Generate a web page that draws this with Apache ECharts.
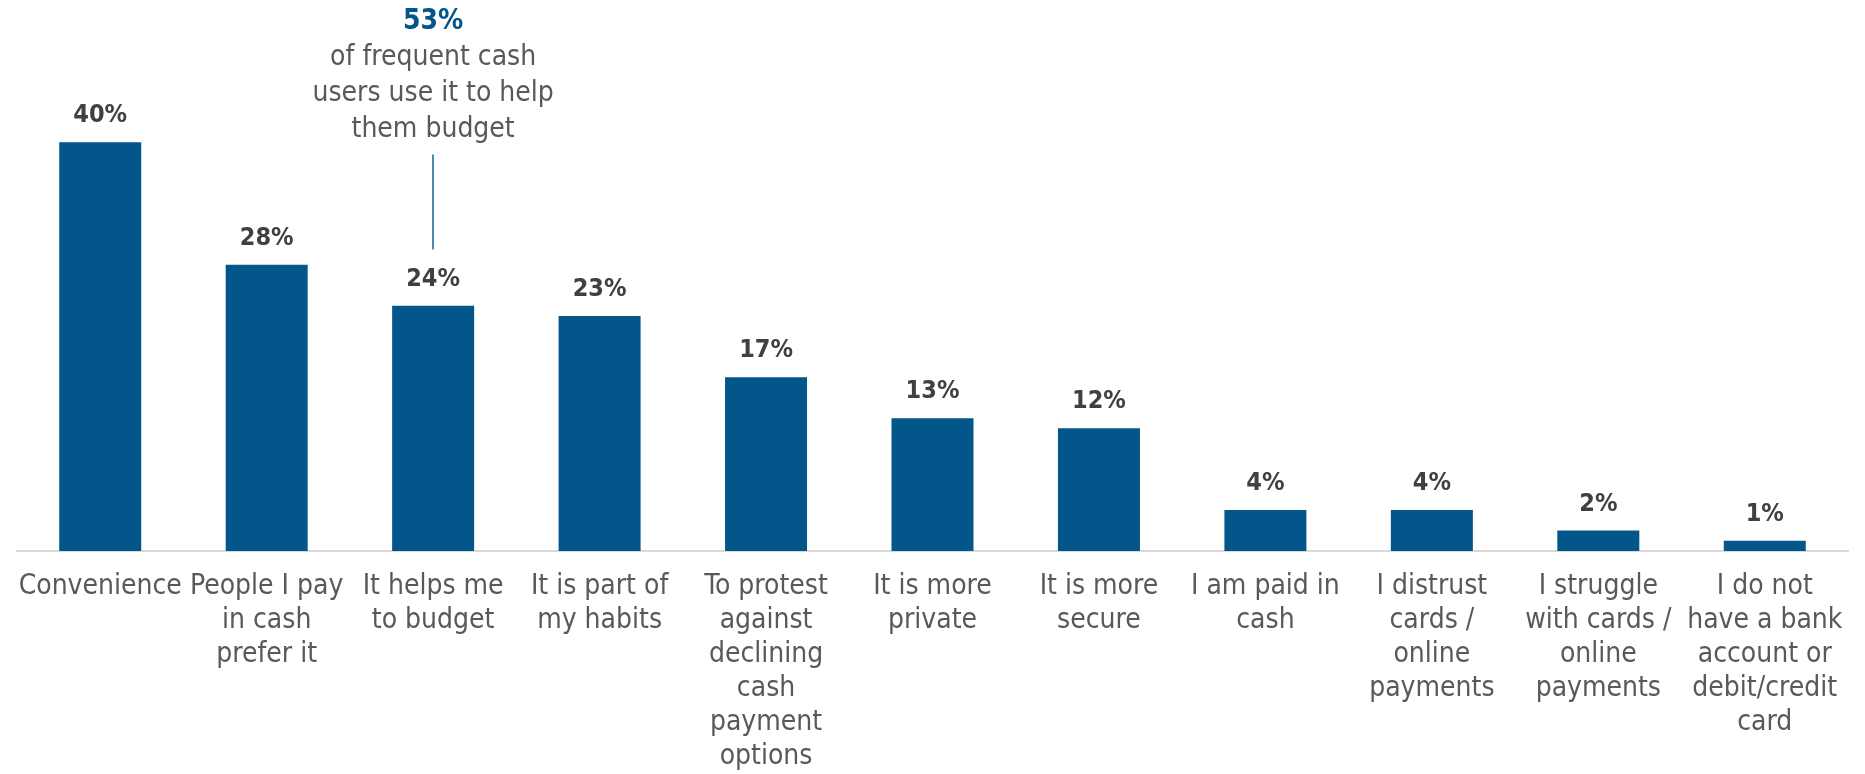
<!DOCTYPE html>
<html>
<head>
<meta charset="utf-8">
<script src="https://cdn.jsdelivr.net/npm/echarts@6/dist/echarts.min.js"></script>
<style>
html,body{margin:0;padding:0;background:#fff;}
#c{width:1865px;height:774px;}
</style>
</head>
<body>
<div id="c"></div>
<script>
const categories = [
  "Convenience",
  "People I pay\nin cash\nprefer it",
  "It helps me\nto budget",
  "It is part of\nmy habits",
  "To protest\nagainst\ndeclining\ncash\npayment\noptions",
  "It is more\nprivate",
  "It is more\nsecure",
  "I am paid in\ncash",
  "I distrust\ncards /\nonline\npayments",
  "I struggle\nwith cards /\nonline\npayments",
  "I do not\nhave a bank\naccount or\ndebit/credit\ncard"
];
const values = [40, 28, 24, 23, 17, 13, 12, 4, 4, 2, 1];
const calloutValue = "53%";
const calloutLines = ["of frequent cash", "users use it to help", "them budget"];
const calloutCategoryIndex = 2;
const leaderFrom = 29.5;
const leaderTo = 38.8;

const FONT = '"DejaVu Sans Condensed", "DejaVu Sans", sans-serif';
const BLUE = '#03568a';

const chart = echarts.init(document.getElementById('c'), null, {renderer: 'canvas'});
const option = {
  animation: false,
  backgroundColor: '#ffffff',
  grid: {left: 17, right: 17, top: 40, bottom: 221, containLabel: false},
  xAxis: {
    type: 'category',
    data: categories,
    axisLine: {show: true, lineStyle: {color: '#d9d9d9', width: 2}},
    axisTick: {show: false},
    axisLabel: {
      interval: 0,
      color: '#595959',
      fontFamily: FONT,
      fontSize: 28,
      lineHeight: 34,
      margin: 19,
      align: 'center'
    }
  },
  yAxis: {
    type: 'value', min: 0, max: 50, show: false,
    splitLine: {show: false}
  },
  series: [{
    type: 'bar',
    data: values,
    barWidth: 82,
    itemStyle: {color: BLUE},
    label: {
      show: true,
      position: 'top',
      distance: 14,
      formatter: '{c}%',
      color: '#404040',
      fontWeight: 'bold',
      fontFamily: FONT,
      fontSize: 25
    },
    markLine: {
      silent: true,
      symbol: ['none', 'none'],
      label: {show: false},
      lineStyle: {color: '#1a5f8f', width: 1.5, type: 'solid'},
      data: [[
        {coord: [categories[calloutCategoryIndex], leaderFrom]},
        {coord: [categories[calloutCategoryIndex], leaderTo]}
      ]]
    }
  }]
};
chart.setOption(option);

const px = chart.convertToPixel({xAxisIndex: 0, yAxisIndex: 0}, [categories[calloutCategoryIndex], 0])[0];
chart.setOption({
  graphic: [{
    type: 'text',
    x: px,
    y: 4,
    style: {
      text: '{a|' + calloutValue + '}\n' + calloutLines.map(l => '{b|' + l + '}').join('\n'),
      align: 'center',
      verticalAlign: 'top',
      rich: {
        a: {fontFamily: FONT, fontSize: 28, fontWeight: 'bold', fill: BLUE, lineHeight: 36, align: 'center'},
        b: {fontFamily: FONT, fontSize: 28, fill: '#595959', lineHeight: 36, align: 'center'}
      }
    }
  }]
});
</script>
</body>
</html>
